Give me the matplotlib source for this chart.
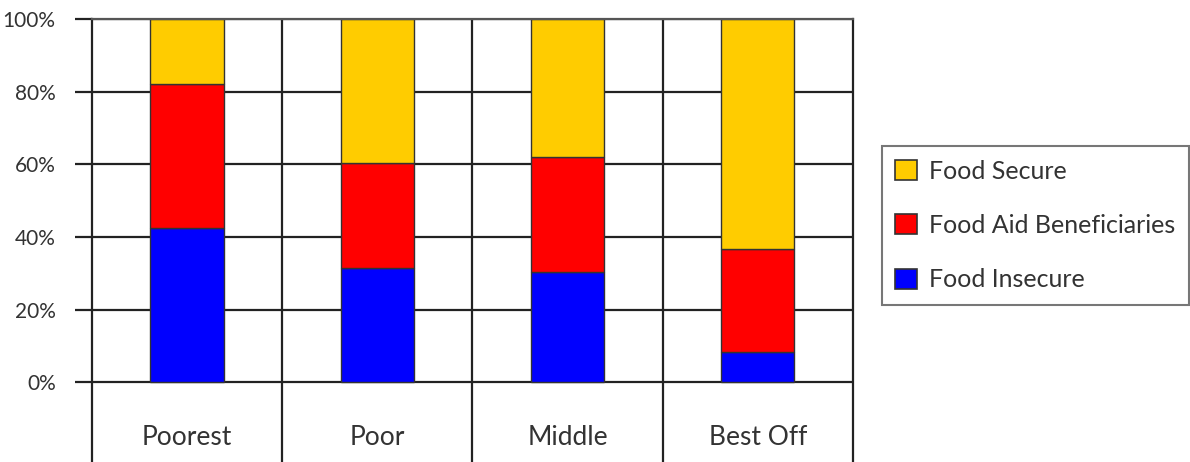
import matplotlib
matplotlib.use("Agg")
import matplotlib.pyplot as plt
from matplotlib.patches import Patch

plt.rcParams['font.family'] = ['Lato', 'DejaVu Sans']

categories = ["Poorest", "Poor", "Middle", "Best Off"]
food_insecure = [42.6, 31.5, 30.4, 8.3]
food_aid = [39.5, 28.9, 31.7, 28.4]
food_secure = [17.9, 39.6, 37.9, 63.3]
series_names = ["Food Insecure", "Food Aid Beneficiaries", "Food Secure"]
colors = ["#0000FF", "#FF0000", "#FFCC00"]
yticks = [0, 20, 40, 60, 80, 100]
ytick_labels = ["0%", "20%", "40%", "60%", "80%", "100%"]

fig = plt.figure(figsize=(11.9, 4.62), dpi=100)
ax = fig.add_axes([0.0771, 0.0, 0.6397, 0.9589])
ybottom = -21.94
ax.set_xlim(-0.5, len(categories) - 0.5)
ax.set_ylim(ybottom, 100)

line_col = "#222222"
for t in yticks:
    ax.axhline(t, color=line_col, lw=1.6, zorder=1)
for b in range(1, len(categories)):
    ax.axvline(b - 0.5, color=line_col, lw=1.6, zorder=1)

x = list(range(len(categories)))
w = 0.385
bottoms = [0] * len(categories)
for vals, name, c in zip([food_insecure, food_aid, food_secure], series_names, colors):
    ax.bar(x, vals, width=w, bottom=bottoms, color=c, edgecolor="#333333",
           linewidth=1.0, zorder=2, label=name)
    bottoms = [b + v for b, v in zip(bottoms, vals)]

for xi, cat in zip(x, categories):
    ax.text(xi, -15.3, cat, ha="center", va="center", fontsize=19, color="#333333")

ax.set_xticks([])
ax.set_yticks(yticks)
ax.set_yticklabels(ytick_labels, fontsize=15, color="#333333")
ax.tick_params(axis="y", length=12, width=1.6, color=line_col, pad=14)
for s in ["left", "right"]:
    ax.spines[s].set_color(line_col)
    ax.spines[s].set_linewidth(1.6)
ax.spines["top"].set_color("#555555")
ax.spines["top"].set_linewidth(1.6)
ax.spines["bottom"].set_visible(False)

handles = [Patch(facecolor=c, edgecolor="#333333", linewidth=1.2) for c in colors][::-1]
labels = series_names[::-1]
leg = fig.legend(handles, labels, loc="center", bbox_to_anchor=(0.8701, 0.5119),
                 fontsize=18, frameon=True, fancybox=False, edgecolor="#555555",
                 labelspacing=1.25, handlelength=0.85, handleheight=0.85,
                 handletextpad=0.5, borderpad=0.55, borderaxespad=0)
leg.get_frame().set_linewidth(1.5)
for t in leg.get_texts():
    t.set_color("#333333")

fig.savefig("out.png", dpi=100)
